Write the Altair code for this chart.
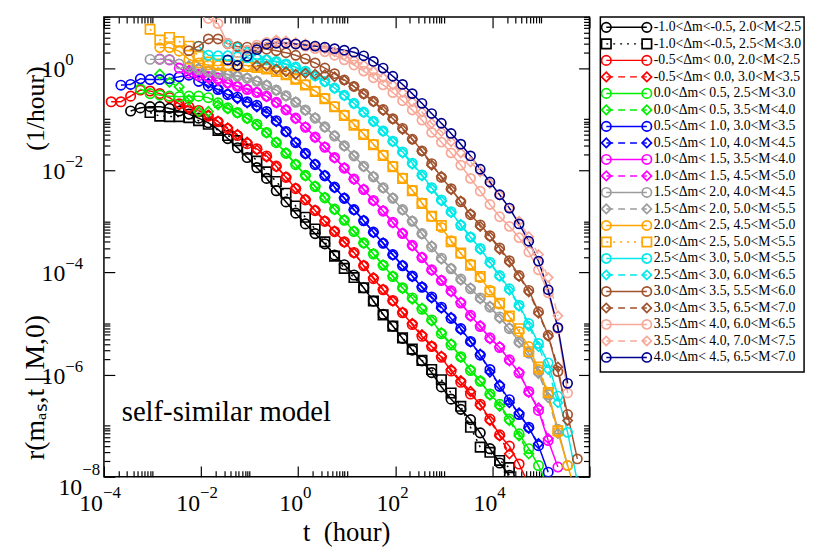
import altair as alt
import pandas as pd

FONT = "Liberation Serif"
W, H = 491, 465

# log10 of time-bin centres (hours)
LOG_T = [-3.85, -3.65, -3.45, -3.25, -3.05, -2.85, -2.65, -2.45, -2.25, -2.05,
         -1.85, -1.65, -1.45, -1.25, -1.05, -0.85, -0.65, -0.45, -0.25, -0.05,
         0.15, 0.35, 0.55, 0.75, 0.95, 1.15, 1.35, 1.55, 1.75, 1.95,
         2.15, 2.35, 2.55, 2.75, 2.95, 3.15, 3.35, 3.55, 3.75, 3.95,
         4.15, 4.35, 4.55, 4.75, 4.95, 5.15, 5.35, 5.55, 5.75]

# log10 of rate values, each series starts at LOG_T[start]
S01 = [-0.84, -0.78, -0.755, -0.755, -0.79, -0.84, -0.90, -0.98, -1.07, -1.20, -1.38, -1.56, -1.75, -1.95,
       -2.16, -2.40, -2.62, -2.84, -3.05, -3.24, -3.44, -3.66, -3.85, -4.05, -4.30, -4.56, -4.82, -5.05,
       -5.29, -5.52, -5.73, -5.96, -6.24, -6.48, -6.68, -6.88, -7.14, -7.45, -7.73, -7.97]
S02 = [-0.87, -0.94, -0.95, -0.95, -0.97, -1.03, -1.10, -1.22, -1.32, -1.42, -1.59, -1.82, -2.03, -2.22,
       -2.45, -2.70, -2.92, -3.15, -3.40, -3.68, -3.92, -4.10, -4.30, -4.56, -4.83, -5.05, -5.28, -5.50,
       -5.72, -5.90, -6.10, -6.36, -6.62, -7.03, -7.42, -7.52, -7.68, -7.82]
S03 = [-0.66, -0.66, -0.55, -0.43, -0.45, -0.50, -0.58, -0.70, -0.76, -0.83, -0.94, -1.05, -1.19, -1.32,
       -1.48, -1.58, -1.72, -1.92, -2.14, -2.36, -2.58, -2.79, -3.00, -3.20, -3.40, -3.61, -3.87, -4.12,
       -4.34, -4.55, -4.79, -5.02, -5.25, -5.45, -5.66, -5.93, -6.15, -6.38, -6.58, -6.87, -7.18, -7.40,
       -7.75, -8.15]
S04 = [-0.72, -0.80, -0.86, -0.92, -1.04, -1.17, -1.30, -1.45, -1.60, -1.74, -1.93, -2.13, -2.35, -2.57,
       -2.78, -2.99, -3.19, -3.41, -3.62, -3.86, -4.10, -4.33, -4.56, -4.78, -5.00, -5.22, -5.44, -5.64,
       -5.90, -6.12, -6.33, -6.60, -6.90, -7.20, -7.55]
S05 = [-0.41, -0.50, -0.53, -0.55, -0.56, -0.55, -0.55, -0.58, -0.68, -0.78, -0.87, -0.98, -1.10, -1.26,
       -1.46, -1.67, -1.89, -2.10, -2.32, -2.54, -2.76, -2.98, -3.20, -3.42, -3.64, -3.86, -4.08, -4.30,
       -4.50, -4.72, -4.93, -5.20, -5.42, -5.65, -5.92, -6.13, -6.38, -6.58, -6.87, -7.16, -7.45, -7.78, -8.2]
S06 = [-0.12, -0.28, -0.37, -0.62, -0.85, -0.85, -0.72, -0.80, -0.88, -0.99, -1.12, -1.27, -1.45, -1.66,
       -1.88, -2.11, -2.31, -2.53, -2.77, -2.97, -3.19, -3.43, -3.63, -3.85, -4.07, -4.31, -4.52, -4.70,
       -4.95, -5.18, -5.40, -5.66, -5.90, -6.12, -6.40, -6.62, -6.90, -7.20, -7.55]
S07 = [-0.335, -0.32, -0.21, -0.225, -0.225, -0.21, -0.17, -0.14, -0.26, -0.35, -0.42, -0.52, -0.57, -0.66,
       -0.73, -0.85, -1.03, -1.24, -1.46, -1.67, -1.89, -2.11, -2.33, -2.55, -2.77, -2.99, -3.21, -3.43,
       -3.65, -3.87, -4.07, -4.29, -4.48, -4.68, -4.90, -5.10, -5.35, -5.62, -5.90, -6.23, -6.49, -6.78,
       -7.03, -7.39, -7.91]
S08 = [-0.30, -0.40, -0.50, -0.60, -0.68, -0.76, -0.88, -1.05, -1.25, -1.45, -1.68, -1.88, -2.10, -2.34,
       -2.54, -2.78, -2.98, -3.22, -3.42, -3.66, -3.86, -4.08, -4.28, -4.50, -4.70, -4.88, -5.12, -5.36,
       -5.60, -5.95, -6.20, -6.55, -6.75, -7.05, -7.35]
S09 = [0.175, 0.16, 0.0, -0.10, -0.15, -0.17, -0.20, -0.29, -0.36, -0.42, -0.48,
       -0.55, -0.67, -0.82, -0.98, -1.16, -1.35, -1.55, -1.75, -1.96, -2.17, -2.38, -2.59, -2.80, -3.02,
       -3.24, -3.47, -3.71, -3.95, -4.16, -4.36, -4.60, -4.84, -5.06, -5.28, -5.47, -5.71, -5.97, -6.33,
       -6.70, -7.29, -7.81]
S10 = [-0.05, -0.12, -0.20, -0.25, -0.30, -0.35, -0.40, -0.47,
       -0.56, -0.68, -0.81, -0.99, -1.15, -1.36, -1.54, -1.76, -1.95, -2.18, -2.37, -2.60, -2.79, -3.03,
       -3.23, -3.48, -3.70, -3.96, -4.15, -4.38, -4.58, -4.86, -5.04, -5.30, -5.45, -5.73, -5.95, -6.35,
       -6.65, -7.25]
S11 = [0.17, 0.17, 0.17, 0.08, 0.02, -0.03, -0.07, -0.10, -0.13, -0.16, -0.20, -0.26,
       -0.34, -0.43, -0.54, -0.67, -0.82, -0.98, -1.15, -1.33, -1.52, -1.72, -1.92, -2.13, -2.34, -2.55,
       -2.77, -3.00, -3.24, -3.50, -3.72, -3.93, -4.13, -4.32, -4.50, -4.68, -4.87, -5.10, -5.36, -5.58,
       -5.94, -6.39, -7.07, -7.78]
S12 = [0.05, 0.0, -0.05, -0.09, -0.12, -0.15, -0.19, -0.25,
       -0.33, -0.44, -0.55, -0.66, -0.83, -0.97, -1.16, -1.32, -1.53, -1.71, -1.93, -2.12, -2.35, -2.54,
       -2.78, -2.99, -3.25, -3.48, -3.74, -3.92, -4.15, -4.30, -4.52, -4.66, -4.90, -5.08, -5.38, -5.55,
       -5.98, -6.45, -7.15]
S13 = [0.40, 0.40, 0.33, 0.17, 0.10, 0.06, 0.05, 0.06, 0.06, 0.05, 0.03,
       0.0, -0.05, -0.12, -0.21, -0.32, -0.45, -0.59, -0.75, -0.92, -1.10, -1.29, -1.49, -1.70, -1.92,
       -2.15, -2.39, -2.64, -2.90, -3.12, -3.38, -3.63, -3.84, -4.10, -4.35, -4.62, -4.87, -5.16, -5.45,
       -5.90, -6.36, -7.13, -7.78, -8.4]
S14 = [0.76, 0.55, 0.60, 0.52, 0.43, 0.23, 0.12, 0.08, 0.05, 0.04, 0.03, 0.01,
       -0.02, -0.07, -0.13, -0.22, -0.33, -0.46, -0.60, -0.76, -0.93, -1.12, -1.30, -1.50, -1.71, -1.93,
       -2.16, -2.40, -2.65, -2.90, -3.08, -3.40, -3.62, -3.86, -4.08, -4.38, -4.60, -4.85, -5.10, -5.55,
       -5.85, -6.35, -7.10]
S15 = [0.43, 0.25, 0.24, 0.24, 0.22, 0.20, 0.18,
       0.16, 0.13, 0.08, 0.02, -0.06, -0.15, -0.26, -0.39, -0.53, -0.69, -0.86, -1.04, -1.23, -1.43,
       -1.64, -1.86, -2.09, -2.34, -2.58, -2.81, -3.08, -3.31, -3.53, -3.80, -4.06, -4.32, -4.64, -5.00,
       -5.39, -5.77, -6.42, -7.13, -8.1]
S16 = [0.47, 0.42, 0.32, 0.22,
       0.17, 0.12, 0.07, 0.01, -0.07, -0.16, -0.27, -0.40, -0.54, -0.70, -0.87, -1.05, -1.24, -1.44,
       -1.66, -1.88, -2.11, -2.36, -2.60, -2.83, -3.06, -3.30, -3.55, -3.82, -4.08, -4.35, -4.66, -5.05,
       -5.45, -5.90, -6.55]
S17 = [0.34, 0.43, 0.57, 0.57, 0.48, 0.42, 0.41, 0.40,
       0.37, 0.34, 0.30, 0.25, 0.18, 0.10, 0.0, -0.11, -0.23, -0.36, -0.50, -0.65, -0.81, -0.99, -1.18,
       -1.39, -1.62, -1.87, -2.14, -2.36, -2.62, -2.87, -3.07, -3.28, -3.52, -3.77, -4.06, -4.35, -4.77,
       -5.23, -5.94, -6.78, -7.65]
S18 = [0.05,
       0.04, -0.02, -0.07, -0.12, -0.10, -0.12, -0.13, -0.17, -0.24, -0.36, -0.51, -0.66, -0.83, -1.00,
       -1.20, -1.40, -1.63, -1.90, -2.12, -2.38, -2.60, -2.85, -3.10, -3.30, -3.55, -3.80, -4.08, -4.38,
       -4.80, -5.25, -5.85, -6.90]
S19 = [0.97, 0.87, 0.48, 0.30, 0.35, 0.45,
       0.50, 0.52, 0.50, 0.47, 0.43, 0.38, 0.32, 0.25, 0.16, 0.06, -0.06, -0.19, -0.33, -0.48, -0.64,
       -0.82, -1.02, -1.26, -1.45, -1.66, -1.90, -2.16, -2.41, -2.67, -2.91, -3.10, -3.32, -3.60, -3.95,
       -4.40, -5.10, -6.36]
S20 = [0.55, 0.53, 0.50, 0.47, 0.43, 0.38, 0.32, 0.25, 0.16, 0.06, -0.06, -0.19, -0.33, -0.48, -0.66,
       -0.86, -1.08, -1.24, -1.44, -1.66, -1.84, -2.03, -2.26, -2.49, -2.74, -3.00, -3.30, -3.65, -4.10,
       -4.85]
S21 = [0.16, 0.05, 0.23, 0.36, 0.47, 0.485, 0.485, 0.47, 0.45, 0.43, 0.41, 0.38, 0.35, 0.31, 0.24, 0.13,
       0.0, -0.16, -0.32, -0.50, -0.69, -0.89, -1.08, -1.28, -1.49, -1.72, -1.98, -2.23, -2.48, -2.74,
       -3.05, -3.39, -3.78, -4.34, -5.08, -6.17]

VALUES = [S01, S02, S03, S04, S05, S06, S07, S08, S09, S10, S11,
          S12, S13, S14, S15, S16, S17, S18, S19, S20, S21]
STARTS = [2, 4, 0, 7, 3, 5, 1, 10, 5, 8, 4, 8, 5, 4, 9, 12, 8, 15, 10, 17, 12]

LABELS = [
    "-1.0<Δm<-0.5, 2.0<M<2.5", "-1.0<Δm<-0.5, 2.5<M<3.0",
    "-0.5<Δm< 0.0, 2.0<M<2.5", "-0.5<Δm< 0.0, 3.0<M<3.5",
    " 0.0<Δm< 0.5, 2.5<M<3.0", " 0.0<Δm< 0.5, 3.5<M<4.0",
    " 0.5<Δm< 1.0, 3.0<M<3.5", " 0.5<Δm< 1.0, 4.0<M<4.5",
    " 1.0<Δm< 1.5, 3.5<M<4.0", " 1.0<Δm< 1.5, 4.5<M<5.0",
    " 1.5<Δm< 2.0, 4.0<M<4.5", " 1.5<Δm< 2.0, 5.0<M<5.5",
    " 2.0<Δm< 2.5, 4.5<M<5.0", " 2.0<Δm< 2.5, 5.0<M<5.5",
    " 2.5<Δm< 3.0, 5.0<M<5.5", " 2.5<Δm< 3.0, 6.0<M<6.5",
    " 3.0<Δm< 3.5, 5.5<M<6.0", " 3.0<Δm< 3.5, 6.5<M<7.0",
    " 3.5<Δm< 4.0, 6.0<M<6.5", " 3.5<Δm< 4.0, 7.0<M<7.5",
    " 4.0<Δm< 4.5, 6.5<M<7.0",
]
COLORS = ["#000000", "#000000", "#ff0000", "#ff0000", "#00ee00", "#00ee00", "#0000ff", "#0000ff",
          "#ff00ff", "#ff00ff", "#9c9c9c", "#9c9c9c", "#ffa500", "#ffa500", "#00e8e8", "#00e8e8",
          "#a0522d", "#a0522d", "#f8a898", "#f8a898", "#00008b"]
SHAPES = ["circle", "square", "circle", "diamond", "circle", "diamond", "circle", "diamond",
          "circle", "diamond", "circle", "diamond", "circle", "square", "circle", "diamond",
          "circle", "diamond", "circle", "diamond", "circle"]
STYLES = ["solid", "dotted", "solid", "dashed", "solid", "dashed", "solid", "dashed", "solid", "dashed",
          "solid", "dashed", "solid", "dotted", "solid", "dashed", "solid", "dashed", "solid", "dashed", "solid"]

DASH_OF = {"solid": [1, 0], "dashed": [7, 5], "dotted": [2, 5]}
SIZE_OF = {"circle": 92, "square": 85, "diamond": 115}

KEYS = ["s%02d" % (i + 1) for i in range(len(LABELS))]

rows = []
for k, st, vals in zip(KEYS, STARTS, VALUES):
    assert st + len(vals) <= len(LOG_T)
    for i, v in enumerate(vals):
        rows.append({"s": k, "t": 10 ** LOG_T[st + i], "r": 10 ** v})
df = pd.DataFrame(rows)

XS = alt.Scale(type="log", domain=[1e-4, 1e6], nice=False)
YS = alt.Scale(type="log", domain=[1e-8, 10], nice=False)
col = alt.Color("s:N", scale=alt.Scale(domain=KEYS, range=COLORS), legend=None)
dash = alt.StrokeDash("s:N", scale=alt.Scale(domain=KEYS, range=[DASH_OF[s] for s in STYLES]), legend=None)
shp = alt.Shape("s:N", scale=alt.Scale(domain=KEYS, range=SHAPES), legend=None)
siz = alt.Size("s:N", scale=alt.Scale(domain=KEYS, range=[SIZE_OF[s] for s in SHAPES]), legend=None)

X_MAJOR = [1e-4, 1e-2, 1, 1e2, 1e4, 1e6]
X_MINOR = [k * 10.0 ** e for e in (-4, -2, 0, 2, 4) for k in range(2, 11)]
Y_MAJOR = [1e-8, 1e-6, 1e-4, 1e-2, 1]
Y_MINOR = [k * 10.0 ** e for e in (-8, -6, -4, -2, 0) for k in range(2, 11)]

anchor = pd.DataFrame({"t": [1.0], "r": [1.0]})


def tick_axis(orient, offset, values, size):
    return alt.Axis(orient=orient, offset=offset, values=values, labels=False, ticks=True,
                    tickSize=size, tickColor="black", tickWidth=1.2, domain=False,
                    grid=False, title=None)


def axis_layer(xa, ya):
    return alt.Chart(anchor).mark_point(opacity=0).encode(
        x=alt.X("t:Q", scale=XS, axis=xa), y=alt.Y("r:Q", scale=YS, axis=ya))


axes = [
    axis_layer(tick_axis("top", -H, X_MAJOR, 11), tick_axis("right", -W, Y_MAJOR, 11)),
    axis_layer(tick_axis("top", -H, X_MINOR, 6), tick_axis("right", -W, Y_MINOR, 6)),
    axis_layer(tick_axis("bottom", -H, X_MAJOR, 11), tick_axis("left", -W, Y_MAJOR, 11)),
    axis_layer(tick_axis("bottom", -H, X_MINOR, 6), tick_axis("left", -W, Y_MINOR, 6)),
]

X_ENC = alt.X("t:Q", scale=XS, axis=None)
Y_ENC = alt.Y("r:Q", scale=YS, axis=None)

lines = alt.Chart(df).mark_line(clip=True, strokeWidth=1.5).encode(
    x=X_ENC, y=Y_ENC, color=col, strokeDash=dash)
points = alt.Chart(df).mark_point(clip=True, filled=False, strokeWidth=1.7, opacity=1).encode(
    x=X_ENC, y=Y_ENC, color=col, shape=shp, size=siz)

# tick labels
XL_NEG = pd.DataFrame({"t": [1e-4, 1e-2], "e": ["\u22124", "\u22122"]})
XL_POS = pd.DataFrame({"t": [1.0, 1e2, 1e4], "e": ["0", "2", "4"]})
YL_MID = pd.DataFrame({"r": [1.0, 1e-2, 1e-4, 1e-6], "e": ["0", "\u22122", "\u22124", "\u22126"]})
YL_BOT = pd.DataFrame({"r": [1e-8], "e": ["\u22128"]})

txt = dict(font=FONT, color="black", baseline="alphabetic")
labels = []
for d, dx in ((XL_NEG, -1), (XL_POS, 5)):
    labels.append(alt.Chart(d).mark_text(fontSize=24, align="right", dx=dx, text="10", **txt).encode(
        x=X_ENC, y=alt.value(H + 35)))
    labels.append(alt.Chart(d).mark_text(fontSize=17, align="left", dx=dx, **txt).encode(
        x=X_ENC, y=alt.value(H + 21), text="e:N"))
for d, x0, dy10, dye in ((YL_MID, -63, 9, -3), (YL_BOT, -46, 18, -2)):
    labels.append(alt.Chart(d).mark_text(fontSize=24, align="left", dy=dy10, text="10", **txt).encode(
        x=alt.value(x0), y=Y_ENC))
    labels.append(alt.Chart(d).mark_text(fontSize=17, align="left", dy=dye, **txt).encode(
        x=alt.value(x0 + 24), y=Y_ENC, text="e:N"))

note = pd.DataFrame({"txt": ["self-similar model"]})
ann = alt.Chart(note).mark_text(fontSize=29, align="left", **txt).encode(
    x=alt.value(18), y=alt.value(409), text="txt:N")

xt = pd.DataFrame({"txt": ["t\u00a0\u00a0(hour)"]})
xtitle = alt.Chart(xt).mark_text(fontSize=27, align="center", **txt).encode(
    x=alt.value(W / 2), y=alt.value(H + 65), text="txt:N")
yt1 = pd.DataFrame({"txt": ["r(m\u2090\u209b,t | M,0)"]})
yt2 = pd.DataFrame({"txt": ["(1/hour)"]})
ytitle1 = alt.Chart(yt1).mark_text(fontSize=28, align="left", angle=270, **txt).encode(
    x=alt.value(-61), y=alt.value(448), text="txt:N")
ytitle2 = alt.Chart(yt2).mark_text(fontSize=26, align="right", angle=270, **txt).encode(
    x=alt.value(-61), y=alt.value(50), text="txt:N")

main = alt.layer(*axes, lines, points, *labels, ann, xtitle, ytitle1, ytitle2).resolve_axis(
    x="independent", y="independent").properties(width=W, height=H)

# legend panel
WL, HL = 206, 359
leg = pd.DataFrame({"s": KEYS, "idx": list(range(len(KEYS))),
                    "label": [l.replace(" ", "\u00a0") for l in LABELS]})
LY = alt.Y("idx:Q", scale=alt.Scale(domain=[-0.63, 20.88], reverse=True), axis=None)
lb = alt.Chart(leg)
l_rule = lb.mark_rule(strokeWidth=1.5).encode(x=alt.value(6), x2=alt.value(47), y=LY,
                                               color=col, strokeDash=dash)
l_p1 = lb.mark_point(filled=False, strokeWidth=1.7, opacity=1).encode(
    x=alt.value(6), y=LY, color=col, shape=shp, size=siz)
l_p2 = lb.mark_point(filled=False, strokeWidth=1.7, opacity=1).encode(
    x=alt.value(47), y=LY, color=col, shape=shp, size=siz)
l_txt = lb.mark_text(align="left", baseline="middle", font=FONT, fontSize=13.9, color="black").encode(
    x=alt.value(54), y=LY, text="label:N")
legend = alt.layer(l_rule, l_p1, l_p2, l_txt).properties(width=WL, height=HL)

chart = alt.hconcat(main, legend, spacing=11, bounds="flush").properties(
    padding={"left": 13, "top": 4, "right": 5, "bottom": 5}
).configure_view(stroke="black", strokeWidth=1.5, fill="white")

chart.save("out.html", embed_options={"renderer": "svg", "actions": False})
